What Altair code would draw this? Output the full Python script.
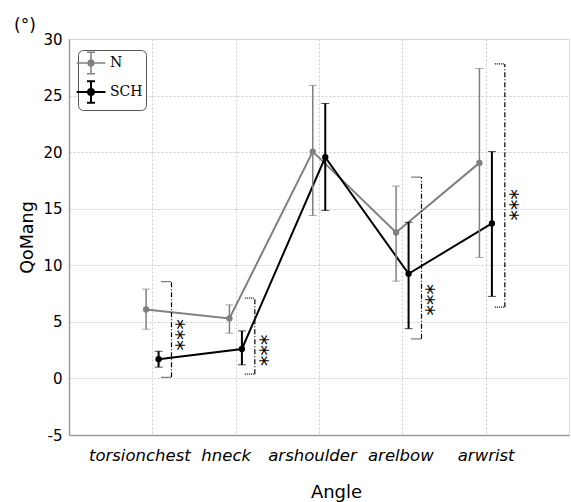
import altair as alt
import pandas as pd

categories = ["torsionchest", "hneck", "arshoulder", "arelbow", "arwrist"]
series_names = ["N", "SCH"]

n_mean = [6.1, 5.3, 20.05, 12.9, 19.05]
n_lo = [4.35, 4.0, 14.4, 8.6, 10.7]
n_hi = [7.9, 6.5, 25.9, 17.0, 27.4]

sch_mean = [1.7, 2.6, 19.55, 9.25, 13.7]
sch_lo = [1.0, 1.2, 14.85, 4.4, 7.25]
sch_hi = [2.4, 4.2, 24.3, 13.8, 20.05]

sig_cats = ["torsionchest", "hneck", "arelbow", "arwrist"]
sig_lo = [0.1, 0.38, 3.5, 6.3]
sig_hi = [8.55, 7.1, 17.8, 27.8]
sig_star_y = [3.85, 2.5, 6.95, 15.35]
sig_text = ["***", "***", "***", "***"]

y_ticks = [-5, 0, 5, 10, 15, 20, 25, 30]

rows = []
for name, m, lo, hi in [("N", n_mean, n_lo, n_hi), ("SCH", sch_mean, sch_lo, sch_hi)]:
    for i, c in enumerate(categories):
        rows.append({"cat": c, "idx": i + 1, "series": name, "mean": m[i], "lo": lo[i], "hi": hi[i]})
df = pd.DataFrame(rows)

df_sig = pd.DataFrame({
    "cat": sig_cats,
    "idx": [categories.index(c) + 1 for c in sig_cats],
    "lo": sig_lo, "hi": sig_hi, "star": sig_star_y, "txt": sig_text,
})

grid_color = "#cccccc"
axis_color = "#9a9a9a"

label_arr = "[" + ",".join("'" + c + "'" for c in categories) + "]"
x_scale = alt.Scale(domain=[0, 6], nice=False, zero=False)
y_scale = alt.Scale(domain=[-5, 30], nice=False, zero=False)

x_axis = alt.Axis(
    values=[1, 2, 3, 4, 5],
    labelExpr=label_arr + "[datum.value-1]",
    labelOffset=alt.expr("datum.value==1?-13:datum.value==2?-10:datum.value==3?-7:datum.value==4?-2:0"),
    labelFont="DejaVu Sans", labelFontStyle="italic", labelFontSize=16.5,
    labelColor="#000", labelPadding=12,
    ticks=False, domainColor=axis_color, domainWidth=1.5,
    grid=True, gridColor=grid_color, gridDash=[2, 2], gridWidth=1,
    title="Angle", titleFont="DejaVu Sans", titleFontSize=18, titleFontWeight="normal",
    titleColor="#000", titlePadding=20, titleX=267,
)
y_axis = alt.Axis(
    values=y_ticks, labelExpr="'' + datum.value",
    labelFont="DejaVu Sans", labelFontSize=15, labelColor="#000",
    labelPadding=7, ticks=False, domainColor=axis_color, domainWidth=1.5,
    grid=True, gridColor=grid_color, gridDash=[2, 2], gridWidth=1,
    title="QoMang", titleFont="DejaVu Sans", titleFontSize=17.5, titleFontWeight="normal",
    titleColor="#000", titlePadding=6,
)

color_scale = alt.Scale(domain=series_names, range=["#808080", "#000000"])
sym_path = ("M-1.6,0H1.6M0,-1.2V1.2M-0.45,-1.2H0.45M-0.45,1.2H0.45"
            "M0.33,0A0.33,0.33,0,1,1,-0.33,0A0.33,0.33,0,1,1,0.33,0Z")
legend = alt.Legend(
    title=None, orient="none", legendX=9, legendY=11,
    symbolType=sym_path, symbolSize=324, symbolStrokeWidth=1.8,
    labelFont="DejaVu Serif", labelFontSize=14, labelColor="#000", labelOffset=9,
    strokeColor="#555", cornerRadius=5, padding=3, rowPadding=0, fillColor="white",
)

base = alt.Chart(df).transform_calculate(
    x="datum.idx + (datum.series == 'N' ? -0.075 : 0.075)"
)
xq = alt.X("x:Q", scale=x_scale, axis=x_axis)
color = alt.Color("series:N", scale=color_scale, legend=legend)
sw = alt.StrokeWidth("series:N", scale=alt.Scale(domain=series_names, range=[1.5, 2.0]), legend=None)

lines = base.mark_line(strokeWidth=2).encode(
    x=xq, y=alt.Y("mean:Q", scale=y_scale, axis=y_axis), color=color,
    order="idx:Q", detail="series:N")
rules = base.mark_rule().encode(x="x:Q", y="lo:Q", y2="hi:Q",
                                color=alt.Color("series:N", scale=color_scale, legend=None), strokeWidth=sw)
caps_lo = base.mark_tick(orient="horizontal", size=8).encode(
    x="x:Q", y="lo:Q", color=alt.Color("series:N", scale=color_scale, legend=None),
    strokeWidth=sw)
caps_hi = base.mark_tick(orient="horizontal", size=8).encode(
    x="x:Q", y="hi:Q", color=alt.Color("series:N", scale=color_scale, legend=None),
    strokeWidth=sw)
points = base.mark_point(filled=True, size=40, opacity=1).encode(
    x="x:Q", y="mean:Q", color=color)

sig = alt.Chart(df_sig).transform_calculate(
    bx="datum.idx + 0.23", bx0="datum.idx + 0.11", sx="datum.idx + 0.275")
sig_rule = sig.mark_rule(color="black", strokeWidth=1.2, strokeDash=[5, 2, 1, 2]).encode(
    x="bx:Q", y="lo:Q", y2="hi:Q")
sig_top = sig.mark_rule(color="black", strokeWidth=1.2, strokeDash=[1, 1]).encode(
    x="bx0:Q", x2="bx:Q", y="hi:Q")
sig_bot = sig.mark_rule(color="black", strokeWidth=1.2, strokeDash=[1, 1]).encode(
    x="bx0:Q", x2="bx:Q", y="lo:Q")
stars = sig.mark_text(angle=90, fontSize=21, font="DejaVu Sans", align="center",
                      baseline="middle", color="black").encode(
    x="sx:Q", y="star:Q", text="txt:N")

chart = alt.layer(
    lines, rules, caps_lo, caps_hi, points, sig_rule, sig_top, sig_bot, stars
).properties(
    width=500, height=396,
    autosize=alt.AutoSizeParams(type="none"),
    padding={"left": 69, "top": 39, "right": 2, "bottom": 67},
    title=alt.TitleParams(text="(°)", anchor="start", frame="group", dx=-55, dy=8, offset=5,
                          font="DejaVu Sans", fontSize=17, fontWeight="normal", color="#000"),
).configure_view(stroke=axis_color, strokeWidth=1.5).configure(background="white")

chart.save("out.html", embed_options={"renderer": "svg", "actions": False})
